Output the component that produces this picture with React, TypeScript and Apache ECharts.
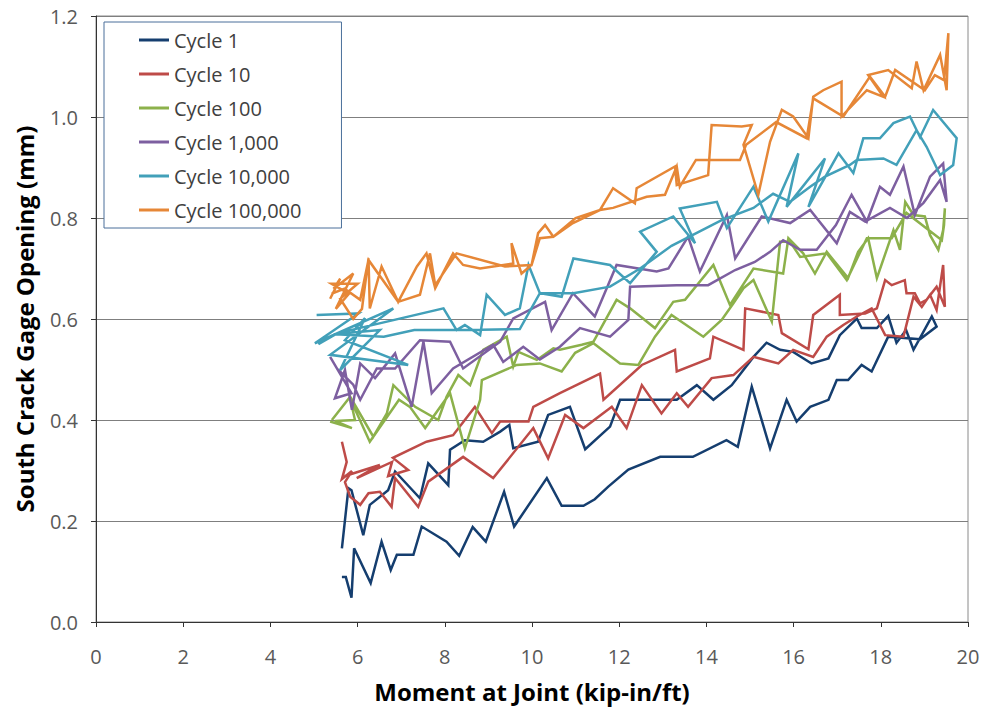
import React, { useEffect, useRef } from "react";
import * as echarts from "echarts";

const seriesNames = ["Cycle 1", "Cycle 10", "Cycle 100", "Cycle 1,000", "Cycle 10,000", "Cycle 100,000"];
const seriesColors = ["#153E6F", "#BE4B48", "#8CB14B", "#7D5FA0", "#42A0B9", "#E68737"];

const xTicks = [0, 2, 4, 6, 8, 10, 12, 14, 16, 18, 20];
const yTicks = [0, 0.2, 0.4, 0.6, 0.8, 1.0, 1.2];

const cycle1 = [
  [5.64, 0.146], [5.79, 0.265], [5.86, 0.261], [6.13, 0.172], [6.28, 0.232], [6.7, 0.261], [6.86, 0.298],
  [7.43, 0.245], [7.62, 0.314], [8.08, 0.271], [8.12, 0.341], [8.46, 0.36], [8.88, 0.357], [9.27, 0.377],
  [9.48, 0.39], [9.57, 0.344], [10.14, 0.357], [10.37, 0.41], [10.87, 0.426], [11.22, 0.342], [11.79, 0.387],
  [12.02, 0.44], [13.32, 0.44], [13.78, 0.469], [14.16, 0.44], [14.58, 0.469], [15.08, 0.525], [15.38, 0.553],
  [15.69, 0.539], [15.99, 0.535], [16.41, 0.512], [16.8, 0.522], [17.06, 0.568], [17.45, 0.601], [17.56, 0.582],
  [17.91, 0.582], [18.17, 0.606], [18.36, 0.553], [18.58, 0.578], [18.75, 0.539], [18.98, 0.575], [19.17, 0.605],
  [19.28, 0.585], [18.9, 0.56], [18.17, 0.565], [17.79, 0.496], [17.56, 0.509], [17.25, 0.479], [16.99, 0.479],
  [16.8, 0.44], [16.38, 0.426], [16.07, 0.397], [15.84, 0.44], [15.46, 0.344], [15.04, 0.466], [14.72, 0.347],
  [14.46, 0.36], [13.69, 0.327], [12.94, 0.327], [12.21, 0.302], [11.75, 0.268], [11.44, 0.243], [11.18, 0.23],
  [10.68, 0.23], [10.34, 0.285], [9.59, 0.189], [9.36, 0.258], [8.94, 0.159], [8.64, 0.188], [8.33, 0.131],
  [8.04, 0.159], [7.47, 0.189], [7.28, 0.133], [6.9, 0.133], [6.76, 0.103], [6.55, 0.159], [6.3, 0.077],
  [5.92, 0.146], [5.86, 0.048], [5.73, 0.089], [5.64, 0.089],
];

const cycle10 = [
  [5.64, 0.357], [5.75, 0.317], [5.64, 0.283], [5.87, 0.299], [5.71, 0.277], [5.83, 0.248], [6.06, 0.232],
  [6.25, 0.255], [6.51, 0.258], [6.78, 0.228], [6.86, 0.285], [7.39, 0.228], [7.62, 0.278], [8.42, 0.327],
  [9.11, 0.285], [10.03, 0.384], [10.37, 0.324], [10.76, 0.41], [11.18, 0.384], [11.83, 0.426], [12.17, 0.384],
  [12.52, 0.469], [12.97, 0.413], [13.32, 0.453], [13.58, 0.426], [14.12, 0.483], [14.62, 0.489], [15.08, 0.525],
  [15.65, 0.512], [15.99, 0.539], [16.45, 0.525], [16.76, 0.565], [17.14, 0.588], [17.45, 0.605], [17.79, 0.621],
  [18.1, 0.568], [18.52, 0.565], [18.75, 0.644], [18.94, 0.624], [19.13, 0.648], [19.28, 0.618], [19.43, 0.707],
  [19.47, 0.624], [19.28, 0.664], [19.05, 0.638], [18.9, 0.631], [18.78, 0.651], [18.59, 0.651], [18.55, 0.677],
  [18.25, 0.667], [18.1, 0.677], [17.91, 0.621], [17.64, 0.611], [17.06, 0.608], [17.06, 0.648], [16.45, 0.608],
  [16.34, 0.54], [15.73, 0.572], [15.65, 0.608], [14.89, 0.621], [14.85, 0.539], [14.16, 0.565], [14.08, 0.522],
  [13.32, 0.496], [13.28, 0.539], [12.52, 0.509], [11.64, 0.44], [11.56, 0.492], [10.64, 0.453], [10.03, 0.426],
  [9.92, 0.397], [9.27, 0.397], [9.08, 0.374], [8.69, 0.426], [8.19, 0.37], [7.58, 0.357], [6.81, 0.325],
  [7.16, 0.301], [6.7, 0.289], [6.79, 0.317], [5.98, 0.285], [6.51, 0.311], [5.71, 0.289],
];

const cycle100 = [
  [5.41, 0.4], [5.83, 0.446], [6.36, 0.367], [6.67, 0.413], [6.82, 0.469], [7.32, 0.426], [7.85, 0.4],
  [8.04, 0.446], [8.31, 0.489], [8.58, 0.469], [8.88, 0.539], [9.42, 0.565], [9.57, 0.506], [9.69, 0.535],
  [10.11, 0.519], [10.49, 0.542], [10.64, 0.539], [11.14, 0.549], [11.41, 0.555], [11.94, 0.638], [12.25, 0.621],
  [12.82, 0.582], [13.24, 0.634], [13.51, 0.638], [14.16, 0.707], [14.54, 0.628], [15.08, 0.7], [15.76, 0.69],
  [15.88, 0.76], [16.22, 0.73], [16.49, 0.69], [16.76, 0.733], [17.25, 0.681], [17.48, 0.733], [17.71, 0.76],
  [17.91, 0.681], [18.29, 0.776], [18.44, 0.737], [18.56, 0.832], [18.75, 0.806], [19.01, 0.803], [19.13, 0.766],
  [19.32, 0.737], [19.43, 0.776], [19.47, 0.819], [19.45, 0.786], [19.4, 0.756], [18.59, 0.81], [18.25, 0.76],
  [17.68, 0.76], [17.22, 0.677], [16.76, 0.73], [16.15, 0.723], [15.92, 0.753], [15.69, 0.753], [15.5, 0.595],
  [15.08, 0.677], [14.85, 0.661], [14.62, 0.631], [14.35, 0.598], [13.93, 0.565], [13.2, 0.608], [12.82, 0.565],
  [12.44, 0.509], [12.02, 0.512], [11.41, 0.552], [10.99, 0.533], [10.68, 0.496], [10.18, 0.512], [9.65, 0.509],
  [8.85, 0.479], [8.81, 0.44], [8.46, 0.344], [8.12, 0.453], [7.55, 0.384], [7.2, 0.426], [6.95, 0.44],
  [6.28, 0.357], [5.83, 0.442], [5.94, 0.4], [5.48, 0.398], [5.87, 0.384], [5.37, 0.397],
];

const cycle1000 = [
  [5.37, 0.525], [5.86, 0.453], [5.48, 0.443], [5.71, 0.499], [5.87, 0.42], [6.06, 0.512], [6.4, 0.483],
  [6.86, 0.532], [7.24, 0.426], [7.51, 0.555], [7.7, 0.453], [8.19, 0.502], [9.11, 0.549], [9.34, 0.515],
  [9.8, 0.545], [10.18, 0.52], [10.64, 0.545], [11.1, 0.582], [11.79, 0.565], [12.21, 0.598], [12.25, 0.664],
  [13.32, 0.667], [14.04, 0.667], [14.66, 0.697], [15.11, 0.713], [15.46, 0.733], [15.76, 0.756], [16.15, 0.737],
  [16.53, 0.737], [16.97, 0.786], [17.33, 0.846], [17.68, 0.793], [17.98, 0.862], [18.21, 0.846], [18.52, 0.902],
  [18.78, 0.806], [19.13, 0.882], [19.43, 0.908], [19.51, 0.832], [19.36, 0.875], [18.98, 0.83], [18.6, 0.8],
  [18.21, 0.82], [17.64, 0.793], [17.29, 0.812], [16.99, 0.75], [16.38, 0.816], [15.92, 0.79], [15.27, 0.803],
  [14.66, 0.72], [14.47, 0.806], [13.85, 0.694], [13.58, 0.763], [13.13, 0.7], [12.86, 0.694], [11.94, 0.707],
  [11.44, 0.605], [10.94, 0.651], [10.45, 0.578], [10.3, 0.634], [9.57, 0.601], [9.27, 0.555], [8.42, 0.502],
  [8.12, 0.555], [7.43, 0.558], [6.86, 0.502], [6.44, 0.502], [6.06, 0.44], [5.9, 0.47], [5.55, 0.5],
];

const cycle10000 = [
  [5.06, 0.608], [6.02, 0.611], [5.02, 0.552], [6.82, 0.621], [5.37, 0.529], [7.16, 0.509], [5.71, 0.558],
  [6.17, 0.602], [5.6, 0.499], [6.51, 0.578], [5.45, 0.57], [7.97, 0.621], [8.27, 0.578], [8.46, 0.588],
  [8.81, 0.568], [8.96, 0.648], [9.38, 0.608], [9.72, 0.621], [9.92, 0.707], [10.18, 0.651], [10.68, 0.644],
  [10.95, 0.72], [11.79, 0.707], [12.25, 0.671], [12.86, 0.733], [12.48, 0.773], [13.24, 0.803], [13.74, 0.75],
  [13.39, 0.819], [14.24, 0.832], [14.47, 0.78], [15.08, 0.862], [15.42, 0.793], [16.11, 0.928], [15.84, 0.822],
  [16.72, 0.918], [16.34, 0.822], [17.03, 0.928], [17.37, 0.889], [17.6, 0.958], [17.98, 0.958], [18.29, 0.988],
  [18.67, 1.001], [18.9, 0.96], [19.2, 1.014], [19.74, 0.958], [19.66, 0.905], [19.36, 0.885], [19.05, 0.941],
  [18.82, 0.974], [18.36, 0.905], [18.06, 0.918], [17.45, 0.915], [17.29, 0.905], [16.72, 0.882], [16.38, 0.862],
  [15.92, 0.832], [15.53, 0.848], [15.08, 0.82], [14.35, 0.796], [13.2, 0.745], [12.48, 0.7], [11.79, 0.664],
  [10.95, 0.651], [10.18, 0.651], [9.72, 0.58], [8.5, 0.578], [7.3, 0.578], [6.6, 0.565], [5.5, 0.57], [5.1, 0.55],
];

const cycle100000 = [
  [5.37, 0.64], [5.6, 0.68], [5.45, 0.66], [5.9, 0.69], [5.5, 0.62], [5.8, 0.65], [5.4, 0.67], [6.0, 0.67],
  [5.6, 0.64], [5.9, 0.6], [6.1, 0.62], [6.25, 0.72], [6.28, 0.621], [6.55, 0.704], [6.93, 0.634], [7.36, 0.704],
  [7.58, 0.73], [7.78, 0.661], [8.19, 0.73], [8.42, 0.707], [8.81, 0.7], [9.57, 0.71], [9.53, 0.75], [9.76, 0.69],
  [9.99, 0.707], [10.14, 0.77], [10.3, 0.786], [10.49, 0.763], [10.94, 0.79], [11.56, 0.816], [11.86, 0.859],
  [12.36, 0.829], [12.4, 0.859], [13.28, 0.902], [13.32, 0.865], [14.04, 0.885], [14.12, 0.984], [14.81, 0.981],
  [15.04, 0.984], [14.85, 0.945], [15.19, 0.846], [15.46, 0.951], [15.73, 1.014], [15.99, 1.001], [16.34, 0.958],
  [16.45, 1.04], [16.68, 1.053], [17.1, 1.07], [17.1, 1.001], [17.68, 1.053], [18.06, 1.04], [17.71, 1.083],
  [18.17, 1.093], [18.71, 1.057], [18.82, 1.11], [18.98, 1.053], [19.36, 1.123], [19.51, 1.053], [19.55, 1.166],
  [19.45, 1.073], [19.24, 1.083], [19.01, 1.053], [18.33, 1.093], [18.1, 1.04], [17.75, 1.08], [17.14, 1.001],
  [16.45, 1.037], [16.3, 0.958], [15.6, 0.99], [14.91, 0.945], [14.77, 0.915], [14.47, 0.915], [13.76, 0.915],
  [13.39, 0.862], [13.32, 0.902], [13.05, 0.846], [12.63, 0.842], [11.86, 0.82], [11.56, 0.816], [11.0, 0.8],
  [10.49, 0.763], [10.18, 0.76], [9.99, 0.707], [9.38, 0.704], [8.27, 0.73], [7.78, 0.667], [7.66, 0.73],
  [7.43, 0.648], [6.93, 0.634], [6.25, 0.717], [6.06, 0.638], [5.7, 0.66], [5.4, 0.65],
];

const allSeries = [cycle1, cycle10, cycle100, cycle1000, cycle10000, cycle100000];

const FONT = "'Open Sans', 'Noto Sans', sans-serif";

export default function App() {
  const ref = useRef<HTMLDivElement>(null);
  useEffect(() => {
    if (!ref.current) return;
    const chart = echarts.init(ref.current, null, { renderer: "svg" });
    chart.setOption({
      animation: false,
      backgroundColor: "#ffffff",
      grid: {
        left: 96,
        right: 22,
        top: 16,
        bottom: 93,
        show: true,
        borderColor: "#8a8a8a",
        borderWidth: 1,
        backgroundColor: "transparent",
      },
      legend: {
        orient: "vertical",
        left: 104,
        top: 22,
        data: seriesNames,
        icon: "path://M0,0h30v3h-30z",
        itemWidth: 30,
        itemHeight: 14,
        itemGap: 14,
        padding: [8, 40, 8, 35],
        backgroundColor: "#ffffff",
        borderColor: "#4A6F9A",
        borderWidth: 1,
        textStyle: { fontFamily: FONT, fontSize: 20, color: "#404040" },
      },
      xAxis: {
        type: "value",
        min: xTicks[0],
        max: xTicks[xTicks.length - 1],
        interval: 2,
        name: "Moment at Joint (kip-in/ft)",
        nameLocation: "middle",
        nameGap: 57,
        nameTextStyle: { fontFamily: FONT, fontSize: 24, fontWeight: "bold", color: "#000000" },
        axisLine: { show: true, lineStyle: { color: "#333333", width: 1 } },
        axisTick: { show: true, length: 5, inside: false, lineStyle: { color: "#333333" } },
        axisLabel: { fontFamily: FONT, fontSize: 20, color: "#595959", margin: 24 },
        splitLine: { show: false },
      },
      yAxis: {
        type: "value",
        min: yTicks[0],
        max: yTicks[yTicks.length - 1],
        interval: 0.2,
        name: "South Crack Gage Opening (mm)",
        nameLocation: "middle",
        nameGap: 60,
        nameTextStyle: { fontFamily: FONT, fontSize: 24, fontWeight: "bold", color: "#000000" },
        axisLine: { show: true, lineStyle: { color: "#333333", width: 1 } },
        axisTick: { show: true, length: 5, inside: false, lineStyle: { color: "#333333" } },
        axisLabel: {
          fontFamily: FONT,
          fontSize: 20,
          color: "#595959",
          margin: 18,
          formatter: (v: number) => v.toFixed(1),
        },
        splitLine: { show: true, lineStyle: { color: "#7f7f7f", width: 1 } },
      },
      series: allSeries.map((d, i) => ({
        name: seriesNames[i],
        type: "line",
        data: d,
        showSymbol: false,
        symbol: "none",
        color: seriesColors[i],
        lineStyle: { color: seriesColors[i], width: 2.5, join: "miter" },
        z: 2 + i,
      })),
    });
    return () => chart.dispose();
  }, []);
  return <div ref={ref} style={{ width: 990, height: 715, position: "absolute", left: 0, top: 0 }} />;
}
